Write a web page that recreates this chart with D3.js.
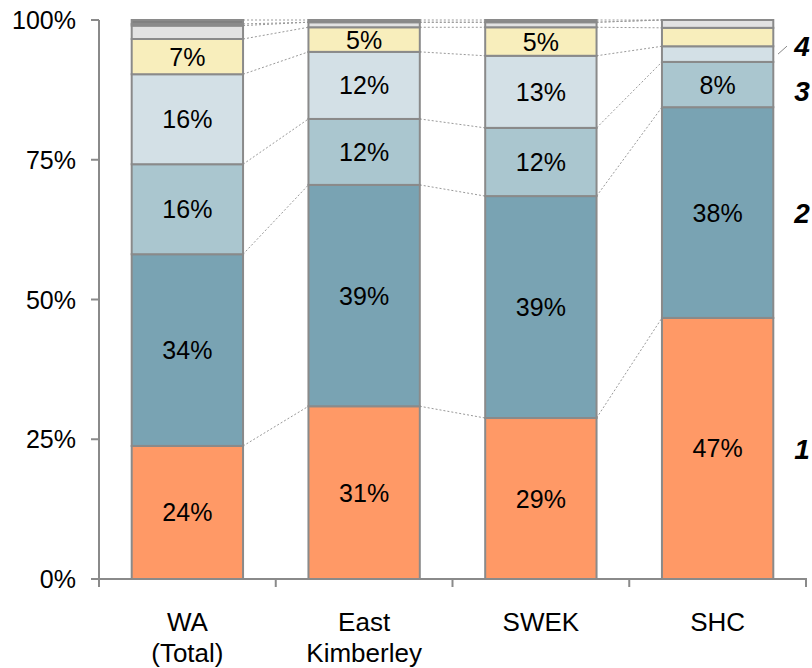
<!DOCTYPE html>
<html><head><meta charset="utf-8">
<script src="https://cdn.jsdelivr.net/npm/d3@7"></script>
<style>body{margin:0;background:#fff}svg{display:block}text{font-family:"Liberation Sans",Arial,sans-serif}</style>
</head><body><svg id="c" width="812" height="668"></svg>
<script>
const categories = [["WA","(Total)"],["East","Kimberley"],["SWEK"],["SHC"]];
const catKeys = ["WA (Total)","East Kimberley","SWEK","SHC"];
const s1 = [23.8, 30.9, 28.8, 46.7];
const s2 = [34.3, 39.6, 39.7, 37.7];
const s3 = [16.1, 11.8, 12.2, 8.1];
const s4 = [16.1, 12.0, 12.9, 2.8];
const s5 = [6.3, 4.4, 5.1, 3.3];
const s6 = [2.4, 0.9, 0.9, 1.4];
const s7 = [0.3, 0.0, 0.0, 0.0];
const s8 = [0.7, 0.4, 0.4, 0.0];
const l1 = ["24%","31%","29%","47%"];
const l2 = ["34%","39%","39%","38%"];
const l3 = ["16%","12%","12%","8%"];
const l4 = ["16%","12%","13%",""];
const l5 = ["7%","5%","5%",""];
const seriesNames = ["1","2","3","4"];
const yTicks = [0,25,50,75,100];
const yTickLabels = ["0%","25%","50%","75%","100%"];

const series = [s1,s2,s3,s4,s5,s6,s7,s8];
const labels = [l1,l2,l3,l4,l5,null,null,null];
const colors = ["#FF9966","#79A3B3","#AAC6CF","#D3E0E6","#F8EEBC","#E2E2E2","#8C7D50","#808080"];
const stroke = "#8A8A8A";

const svg = d3.select("#c");
const x = d3.scaleBand().domain(catKeys).range([99,806]).paddingInner(0.37).paddingOuter(0.185);
const y = d3.scaleLinear().domain([0,100]).range([579,20]);

const stacked = catKeys.map((k,i)=>{let c=0;return series.map((s,j)=>{const o={j,i,y0:c,y1:c+s[i],v:s[i]};c+=s[i];return o;});});

const conn = svg.append("g");
for(let i=0;i<catKeys.length-1;i++){
  for(let j=0;j<series.length;j++){
    const a=stacked[i][j].y1, b=stacked[i+1][j].y1;
    conn.append("line")
      .attr("x1",x(catKeys[i])+x.bandwidth()).attr("y1",y(a))
      .attr("x2",x(catKeys[i+1])).attr("y2",y(b))
      .attr("stroke","#999").attr("stroke-width",1).attr("stroke-dasharray","2,2");
  }
}

const bars = svg.append("g");
stacked.forEach((col,i)=>{
  col.forEach(d=>{
    if(d.v<=0) return;
    bars.append("rect")
      .attr("x",x(catKeys[i])).attr("width",x.bandwidth())
      .attr("y",y(d.y1)).attr("height",y(d.y0)-y(d.y1))
      .attr("fill",colors[d.j]).attr("stroke",stroke).attr("stroke-width",2);
  });
});
stacked.forEach((col,i)=>{
  col.forEach(d=>{
    const lab = labels[d.j] && labels[d.j][i];
    if(!lab) return;
    bars.append("text").attr("x",x(catKeys[i])+x.bandwidth()/2)
      .attr("y",y((d.y0+d.y1)/2)).attr("dy","0.36em")
      .attr("text-anchor","middle").attr("font-size",25).attr("fill","#000").text(lab);
  });
});

const ya = svg.append("g");
ya.append("line").attr("x1",99).attr("x2",99).attr("y1",y(100)).attr("y2",y(0)).attr("stroke",stroke).attr("stroke-width",2);
yTicks.forEach((t,k)=>{
  ya.append("line").attr("x1",91).attr("x2",99).attr("y1",y(t)).attr("y2",y(t)).attr("stroke",stroke).attr("stroke-width",2);
  ya.append("text").attr("x",76).attr("y",y(t)).attr("dy","0.36em").attr("text-anchor","end").attr("font-size",25).text(yTickLabels[k]);
});

const xa = svg.append("g");
xa.append("line").attr("x1",99).attr("x2",807).attr("y1",y(0)).attr("y2",y(0)).attr("stroke",stroke).attr("stroke-width",2);
const step = x.step();
for(let i=0;i<=catKeys.length;i++){
  const xx = 99 + i*step;
  xa.append("line").attr("x1",xx).attr("x2",xx).attr("y1",y(0)).attr("y2",y(0)+8).attr("stroke",stroke).attr("stroke-width",2);
}
categories.forEach((lines,i)=>{
  const t = xa.append("text").attr("text-anchor","middle").attr("font-size",26);
  lines.forEach((ln,k)=>{
    t.append("tspan").attr("x",x(catKeys[i])+x.bandwidth()/2).attr("y",631+k*31).text(ln);
  });
});

const last = stacked[catKeys.length-1];
const offs = [0,0,6,-8];
seriesNames.forEach((n,j)=>{
  const d = last[j];
  svg.append("text").attr("x",802).attr("y",y((d.y0+d.y1)/2)+offs[j]).attr("dy","0.36em")
    .attr("text-anchor","middle").attr("font-size",28).attr("font-weight","bold").attr("font-style","italic").text(n);
});
const d4 = last[3];
svg.append("line").attr("x1",778).attr("y1",y((d4.y0+d4.y1)/2)).attr("x2",787).attr("y2",y((d4.y0+d4.y1)/2)-8)
  .attr("stroke","#888").attr("stroke-width",1);
</script></body></html>
